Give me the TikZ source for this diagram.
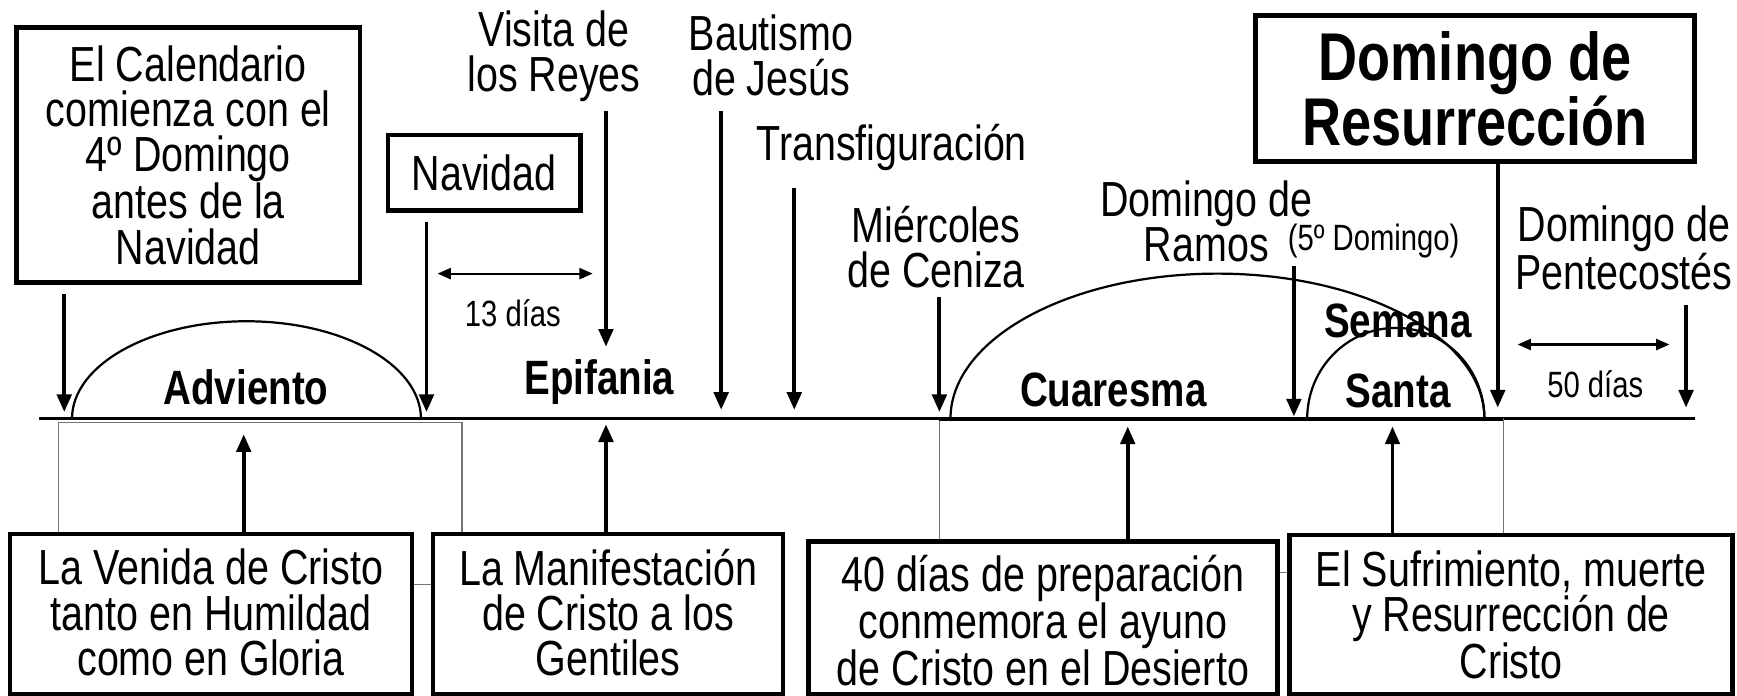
\documentclass[tikz,border=0pt]{standalone}
\usepackage{fontspec}
\setmainfont{Liberation Sans}[FakeStretch=0.8]
\usetikzlibrary{arrows.meta}
\begin{document}
\begin{tikzpicture}[x=1pt,y=-1pt,
  lbl/.style={align=center,inner sep=0pt,font=\fontsize{44.5}{41}\selectfont},
  small/.style={align=center,inner sep=0pt,font=\fontsize{33}{33}\selectfont},
  season/.style={align=center,inner sep=0pt,font=\bfseries\fontsize{43.5}{43}\selectfont},
  tbox/.style={draw,line width=4pt,fill=white,align=center,inner sep=0pt,font=\fontsize{44.5}{41}\selectfont},
  arr/.style={line width=3.5pt,-{Triangle[length=16pt,width=13pt]}},
  darr/.style={line width=2pt,{Triangle[length=12pt,width=10pt]}-{Triangle[length=12pt,width=10pt]}},
  thin/.style={line width=1pt,draw=black!55},
  arcl/.style={line width=2pt}]
\useasboundingbox (0,0) rectangle (1568,628);
\clip (0,0) rectangle (1568,628);
% timeline
\coordinate (L) at (35,378); \coordinate (R) at (1530,378);
\draw[line width=2.5pt] (L) -- (R);
% background thin frames
\draw[thin] (53,381) rectangle (417,528);
\draw[thin] (848,378) rectangle (1357,517);
\draw[line width=4pt] (848,378) -- (1357,378);
% arcs
\draw[arcl] (65,378) arc[start angle=180,end angle=0,x radius=157.5pt,y radius=88pt];
\draw[arcl] (858,378) arc[start angle=180,end angle=0,x radius=241pt,y radius=131pt];
\draw[arcl] (1180,378) arc[start angle=180,end angle=0,x radius=80pt,y radius=82pt];
% top boxes
\node[tbox,minimum width=310pt,minimum height=230pt] (cal) at (170,140)
  {El Calendario\\comienza con el\\4º Domingo\\antes de la\\Navidad};
\node[tbox,minimum width=174pt,minimum height=68pt] (nav) at (437,156) {Navidad};
\node[tbox,line width=4.5pt,minimum width=397pt,minimum height=132pt,
  font=\bfseries\fontsize{61}{53}\selectfont] (res) at (1331.5,80)
  {Domingo de\\Resurrección};
% labels
\node[lbl] (rey) at (500,51) {Visita de\\los Reyes};
\node[lbl] (bau) at (696,50) {Bautismo\\de Jesús};
\node[lbl] (tra) at (805,133) {Transfiguración};
\node[lbl] (cen) at (845,223) {Miércoles\\de Ceniza};
\node[lbl] (ram) at (1089,200) {Domingo de\\Ramos};
\node[small] (cinco) at (1240,218) {(5º Domingo)};
\node[lbl] (pen) at (1466,224) {Domingo de\\Pentecostés};
\node[small] (d13) at (463,283) {13 días};
\node[small] (d50) at (1440,347) {50 días};
% seasons
\node[season] (adv) at (222,350) {Adviento};
\node[season] (epi) at (541,345) {Epifania};
\node[season] (cua) at (1005,352) {Cuaresma};
\node[season] (sem) at (1262,290) {Semana};
\node[season] (san) at (1262,353) {Santa};
% down arrows
\coordinate (a1s) at (58,265);  \coordinate (a1e) at (58,372);
\coordinate (a2s) at (385,200); \coordinate (a2e) at (385,372);
\coordinate (a3s) at (547,100); \coordinate (a3e) at (547,313);
\coordinate (a4s) at (651,100); \coordinate (a4e) at (651,370);
\coordinate (a5s) at (717,170); \coordinate (a5e) at (717,370);
\coordinate (a6s) at (848,268); \coordinate (a6e) at (848,372);
\coordinate (a7s) at (1168,240); \coordinate (a7e) at (1168,376);
\coordinate (a8e) at (1352,368);
\coordinate (a9s) at (1522,275); \coordinate (a9e) at (1522,368);
\draw[arr] (a1s) -- (a1e);
\draw[arr] (a2s) -- (a2e);
\draw[arr] (a3s) -- (a3e);
\draw[arr] (a4s) -- (a4e);
\draw[arr] (a5s) -- (a5e);
\draw[arr] (a6s) -- (a6e);
\draw[arr] (a7s) -- (a7e);
\draw[arr] (res.south -| a8e) -- (a8e);
\draw[arr] (a9s) -- (a9e);
% double arrows
\coordinate (d1l) at (395,247); \coordinate (d1r) at (535,247);
\coordinate (d2l) at (1370,311); \coordinate (d2r) at (1507,311);
\draw[darr] (d1l) -- (d1r);
\draw[darr] (d2l) -- (d2r);
% bottom boxes
\node[tbox,minimum width=363pt,minimum height=145pt,anchor=north] (b1) at (190.5,480) {};
\node[tbox,minimum width=316pt,minimum height=145pt,anchor=north] (b2) at (549,480) {};
\node[tbox,minimum width=423pt,minimum height=138pt,anchor=north] (b3) at (941.5,487) {};
\node[tbox,minimum width=400pt,minimum height=144pt,anchor=north] (b4) at (1364,481) {};
\node[lbl] (t1) at (190.5,553) {La Venida de Cristo\\tanto en Humildad\\como en Gloria};
\node[lbl] (t2) at (549,553) {La Manifestación\\de Cristo a los\\Gentiles};
\node[lbl] (t3) at (941.5,560) {40 días de preparación\\conmemora el ayuno\\de Cristo en el Desierto};
\node[lbl] (t4) at (1364,555) {El Sufrimiento, muerte\\y Resurrección de\\Cristo};
% up arrows
\coordinate (u1) at (220,392);
\coordinate (u2) at (547,383);
\coordinate (u3) at (1018,385);
\coordinate (u4) at (1257,385);
\draw[arr] (b1.north -| u1) -- (u1);
\draw[arr] (b2.north -| u2) -- (u2);
\draw[arr] (b3.north -| u3) -- (u3);
\draw[arr] (b4.north -| u4) -- (u4);
\end{tikzpicture}
\end{document}
